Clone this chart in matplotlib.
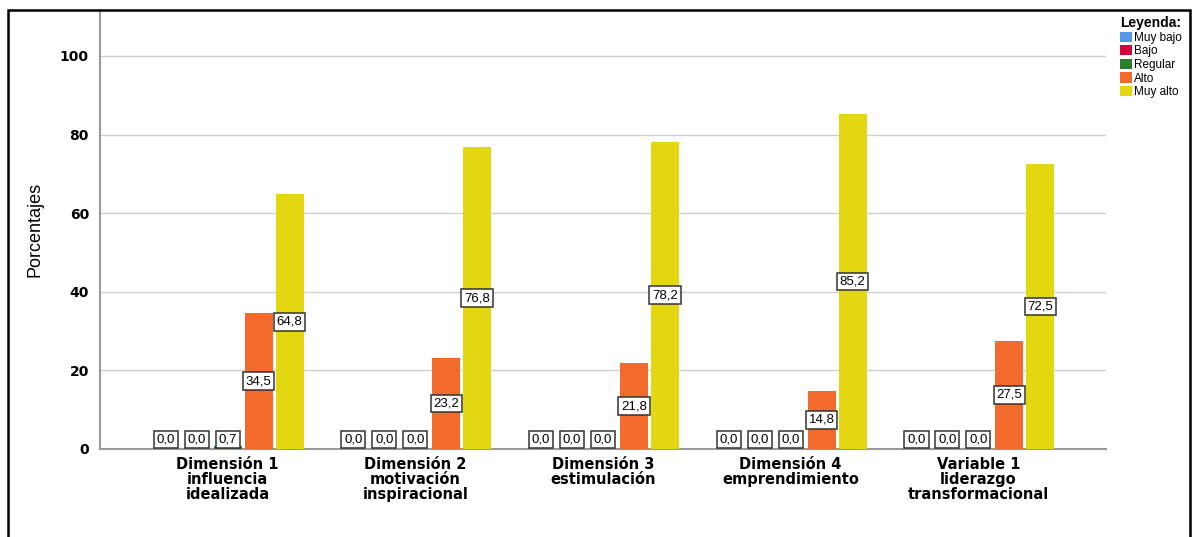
import numpy as np
import matplotlib.pyplot as plt
from matplotlib.patches import Rectangle

plt.rcParams['font.family'] = ['Liberation Sans', 'DejaVu Sans']

categories = ['Dimensión 1\ninfluencia\nidealizada',
              'Dimensión 2\nmotivación\ninspiracional',
              'Dimensión 3\nestimulación',
              'Dimensión 4\nemprendimiento',
              'Variable 1\nliderazgo\ntransformacional']
series = ['Muy bajo', 'Bajo', 'Regular', 'Alto', 'Muy alto']
muy_bajo = [0.0, 0.0, 0.0, 0.0, 0.0]
bajo = [0.0, 0.0, 0.0, 0.0, 0.0]
regular = [0.7, 0.0, 0.0, 0.0, 0.0]
alto = [34.5, 23.2, 21.8, 14.8, 27.5]
muy_alto = [64.8, 76.8, 78.2, 85.2, 72.5]
values = [muy_bajo, bajo, regular, alto, muy_alto]
colors = ['#5596e6', '#d7003a', '#2a7f2a', '#f26a2c', '#e2d710']

fig = plt.figure(figsize=(11.94, 5.37), dpi=100)
ax = fig.add_axes([100/1194, 1-449/537, 1006/1194, 439/537])

x = np.arange(len(categories))
step = 0.165
width = 0.149
for i, (name, vals, col) in enumerate(zip(series, values, colors)):
    pos = x + (i - 2) * step
    ax.bar(pos, vals, width, color=col, label=name, zorder=3)
    for px, v in zip(pos, vals):
        ypos = v / 2 if v > 5 else 2.4
        ax.text(px, ypos, f'{v:.1f}'.replace('.', ','), ha='center', va='center',
                fontsize=9.5, zorder=5,
                bbox=dict(boxstyle='square,pad=0.22', fc='white', ec='#333333', lw=1.1))

ax.set_xlim(-0.68, 4.68)
ax.set_ylim(0, 111.7)
ax.set_yticks([0, 20, 40, 60, 80, 100])
ax.set_xticks(x)
ax.set_xticklabels(categories, fontsize=10.5, fontweight='bold', linespacing=1.0,
                   family='DejaVu Sans')
for lab in ax.get_yticklabels():
    lab.set_fontweight('bold')
    lab.set_fontsize(10)
    lab.set_family('DejaVu Sans')
ax.tick_params(length=0, pad=8)
ax.tick_params(axis='x', pad=6)
ax.set_ylabel('Porcentajes', fontsize=13, labelpad=12)
ax.grid(axis='y', color='#d0d0d0', lw=1, zorder=0)
for s in ['top', 'right']:
    ax.spines[s].set_visible(False)
for s in ['left', 'bottom']:
    ax.spines[s].set_color('#999999')
    ax.spines[s].set_linewidth(1.5)

leg = fig.legend(loc='upper right', bbox_to_anchor=(1190/1194, 1-8/537), frameon=False,
                 title='Leyenda:', fontsize=8.5, handlelength=0.95, handleheight=0.95,
                 handletextpad=0.2, labelspacing=0.12, borderpad=0.2, alignment='right')
leg.get_title().set_fontweight('bold')
leg.get_title().set_fontsize(10)

fig.add_artist(Rectangle((8/1194, -0.1), 1182/1194, 1.1 - 10/537, transform=fig.transFigure,
                         fill=False, ec='black', lw=1.8))

fig.savefig('out.png', dpi=100)
